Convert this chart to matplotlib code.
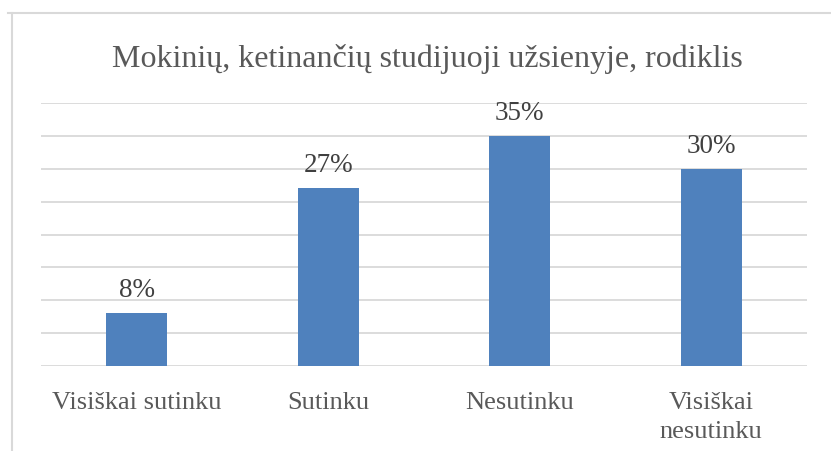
import matplotlib
matplotlib.use("Agg")
import matplotlib.pyplot as plt
from matplotlib.lines import Line2D

categories = ["Visiškai sutinku", "Sutinku", "Nesutinku", "Visiškai\nnesutinku"]
values = [8, 27, 35, 30]
labels = ["8%", "27%", "35%", "30%"]
yticks = [0, 5, 10, 15, 20, 25, 30, 35, 40]

W, H = 831, 452
fig = plt.figure(figsize=(W / 100, H / 100), dpi=100)
plt.rcParams['font.family'] = ['Liberation Serif', 'DejaVu Serif']

# axes: left 41, right 807, baseline 367, top (40%) 104
ax = fig.add_axes([41 / W, 1 - 367 / H, (807 - 41) / W, (367 - 104) / H])
x = list(range(len(categories)))
ax.bar(x, values, width=0.32, color="#4f81bd", zorder=3)
ax.set_xlim(-0.5, len(categories) - 0.5)
ax.set_ylim(0, 40)
ax.set_yticks(yticks)
ax.yaxis.grid(True, color="#d9d9d9", linewidth=1.3, zorder=0)
ax.tick_params(axis="y", length=0, labelleft=False)
ax.tick_params(axis="x", length=0, pad=18, labelsize=19, labelcolor="#595959")
ax.set_xticks(x)
ax.set_xticklabels(categories, linespacing=1.4)
for s in ax.spines.values():
    s.set_visible(False)
for xi, v, lab in zip(x, values, labels):
    ax.annotate(lab, (xi, v), xytext=(0, 8), textcoords="offset points",
                ha="center", va="bottom", fontsize=19.5, color="#404040")

fig.text(427 / W, 1 - 59 / H, "Mokinių, ketinančių studijuoji užsienyje, rodiklis",
         ha="center", va="center", fontsize=23, color="#595959")

# chart frame
fig.add_artist(Line2D([8 / W, 1], [1 - 14 / H, 1 - 14 / H], color="#d9d9d9", linewidth=1.5,
                      transform=fig.transFigure))
fig.add_artist(Line2D([12 / W, 12 / W], [0, 1 - 14 / H], color="#d9d9d9", linewidth=1.5,
                      transform=fig.transFigure))

fig.savefig("out.png", dpi=100, facecolor="white")
